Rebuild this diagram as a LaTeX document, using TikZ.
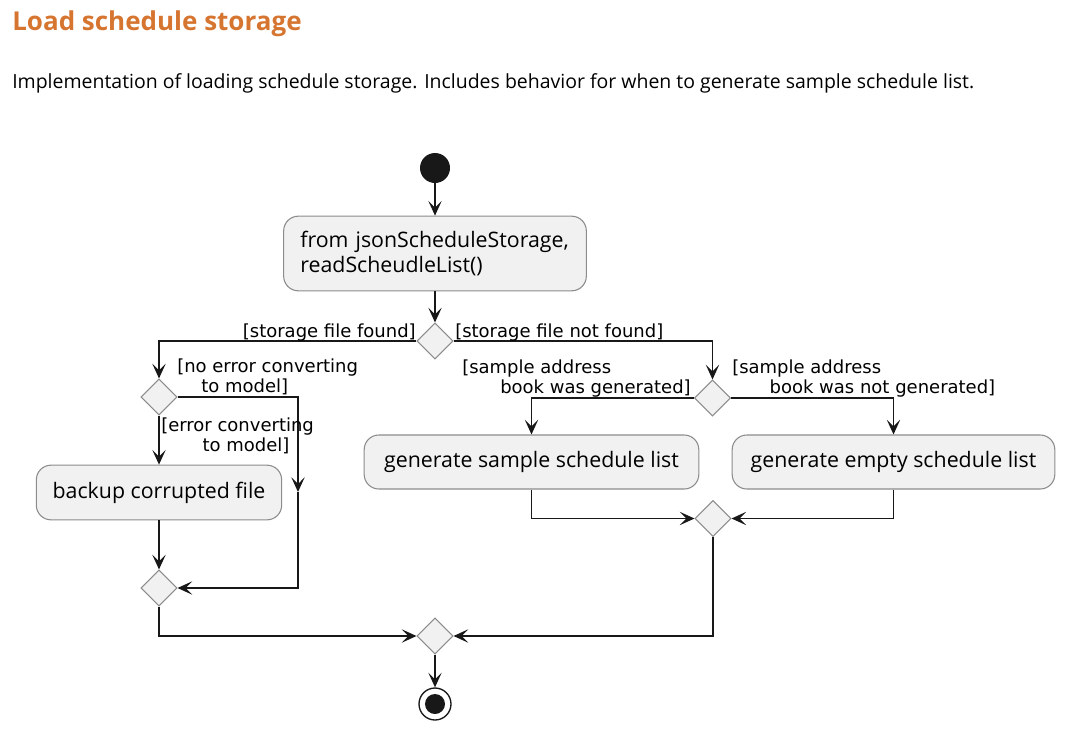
\documentclass[tikz,border=0pt]{standalone}
\usepackage{fontspec}
\setmainfont{Open Sans}
\newfontfamily\guardfont{DejaVu Sans}
\usetikzlibrary{shapes.geometric,arrows.meta}

\definecolor{hdorange}{RGB}{214,117,48}
\definecolor{actfill}{RGB}{241,241,241}
\definecolor{actline}{RGB}{140,140,140}
\definecolor{flowline}{RGB}{24,24,24}

\tikzset{
  action/.style={draw=actline,fill=actfill,rounded corners=11pt,line width=0.8pt,inner sep=0pt,font=\fontsize{16}{18.5}\selectfont},
  branch/.style={diamond,aspect=1,draw=actline,fill=actfill,line width=0.8pt,minimum size=27pt,inner sep=0pt},
  guard/.style={anchor=north west,inner sep=0pt,align=left,font=\guardfont\fontsize{13.5}{14.5}\selectfont},
  flow/.style={draw=flowline,line width=1.1pt,-{Stealth[length=11pt,width=10pt,inset=5pt]}},
}

\begin{document}
\begin{tikzpicture}[x=0.75pt,y=0.75pt,yscale=-1,xscale=1]
\useasboundingbox (0,0) rectangle (1070,732);

% Text Node
\draw (12,30) node (title) [anchor=base west,inner sep=0pt,text=hdorange,font=\bfseries\fontsize{19.5}{23}\selectfont] {Load schedule storage};
% Text Node
\draw (12,88) node (intro) [anchor=base west,inner sep=0pt,font=\fontsize{14.6}{17}\selectfont] {Implementation of loading schedule storage. Includes behavior for when to generate sample schedule list.};

%Shape: Circle
\draw (435,168) node (start) [circle,fill=flowline,minimum size=22.5pt,inner sep=0pt] {};
%Rounded Rect
\draw (435,253.5) node (read) [action,minimum width=227pt,minimum height=56pt,text width=202pt,align=left] {from jsonScheduleStorage,\\readScheudleList()};
%Shape: Diamond
\draw (435,341) node (found) [branch] {};
%Shape: Diamond
\draw (159,397) node (convert) [branch] {};
%Shape: Diamond
\draw (712.5,398) node (sample) [branch] {};
%Rounded Rect
\draw (159,492.5) node (backup) [action,minimum width=184pt,minimum height=41pt] {backup corrupted file};
%Rounded Rect
\draw (531.5,462) node (gensample) [action,minimum width=251pt,minimum height=40.5pt] {generate sample schedule list};
%Rounded Rect
\draw (893.5,462) node (genempty) [action,minimum width=242pt,minimum height=40.5pt] {generate empty schedule list};
%Shape: Diamond
\draw (159,588) node (joinleft) [branch] {};
%Shape: Diamond
\draw (713,518.5) node (joinright) [branch] {};
%Shape: Diamond
\draw (435,636) node (joinall) [branch] {};
%Shape: Circle
\draw (435,704) node (stop) [circle,draw=flowline,fill=white,line width=1pt,minimum size=24pt,inner sep=0pt] {};
\fill [flowline] (stop) circle (7.5pt);
\coordinate (bend) at (298,492);

%Straight Lines
\draw [flow] (start) -- (read);
\draw [flow] (read) -- (found);
\draw [flow] (found.west) -| (convert.north);
\draw [flow] (found.east) -| (sample.north);
\draw [flow] (convert.south) -- (backup.north);
\draw [flow] (convert.east) -| (bend);
\draw [flow] (bend) |- (joinleft.east);
\draw [flow] (backup) -- (joinleft);
\draw [flow] (sample.west) -| (gensample.north);
\draw [flow] (sample.east) -| (genempty.north);
\draw [flow] (gensample.south) |- (joinright.west);
\draw [flow] (genempty.south) |- (joinright.east);
\draw [flow] (joinleft.south) |- (joinall.west);
\draw [flow] (joinright.south) |- (joinall.east);
\draw [flow] (joinall) -- (stop);

% Text Node
\draw (416,337) node (lblfound) [anchor=base east,inner sep=0pt,font=\guardfont\fontsize{13.5}{14.5}\selectfont] {[storage file found]};
% Text Node
\draw (455,337) node (lblnotfound) [anchor=base west,inner sep=0pt,font=\guardfont\fontsize{13.5}{14.5}\selectfont] {[storage file not found]};
% Text Node
\draw (177,359) node (lblnoerr) [guard] {[no error converting\\\hspace*{18pt}to model]};
% Text Node
\draw (161,418) node (lblerr) [guard] {[error converting\\\hspace*{31pt}to model]};
% Text Node
\draw (462,360) node (lblgen) [guard] {[sample address\\\hspace*{28.5pt}book was generated]};
% Text Node
\draw (732,360) node (lblnotgen) [guard] {[sample address\\\hspace*{28pt}book was not generated]};

\end{tikzpicture}
\end{document}
